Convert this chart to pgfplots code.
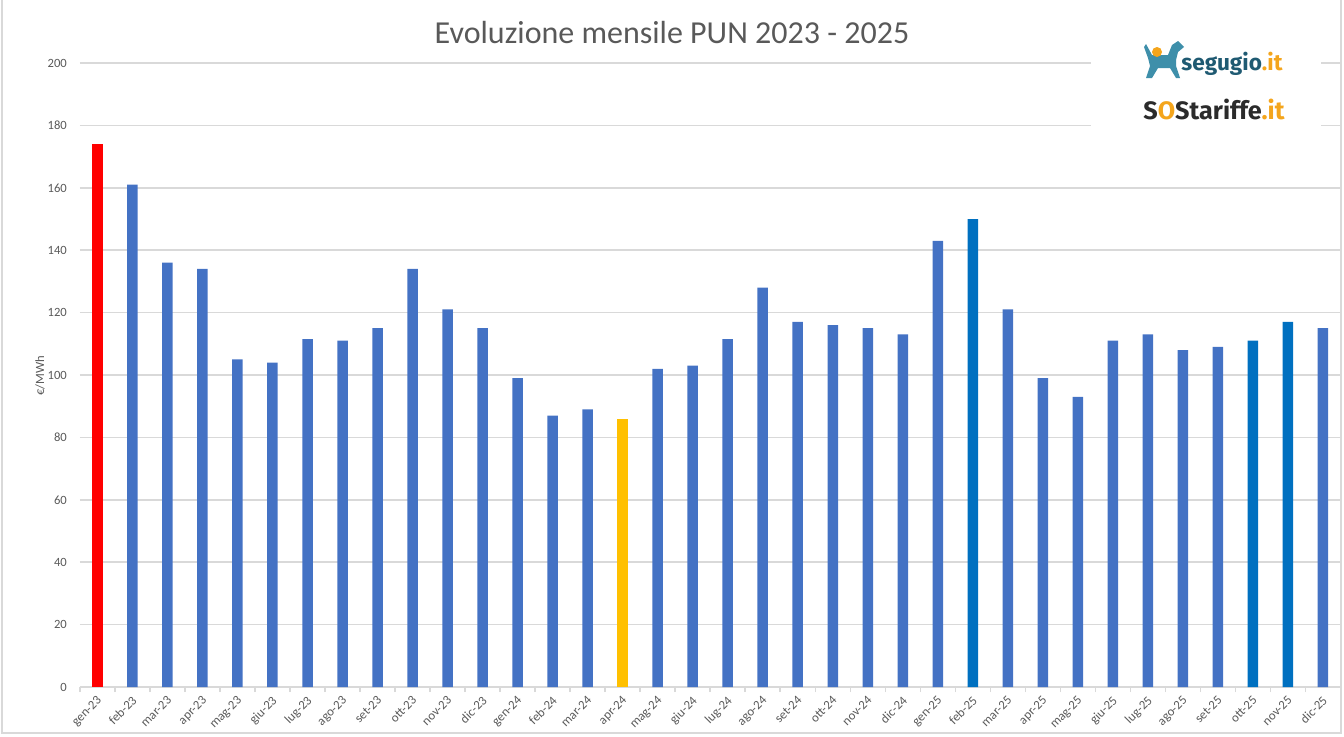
\documentclass[border=0pt]{standalone}
\usepackage{pgfplots}
\pgfplotsset{compat=1.18}
\usepackage{fontspec}
\setmainfont{Carlito}
\newfontfamily\logofont{Fira Sans}
\definecolor{barblue}{HTML}{4472C4}
\definecolor{darkblue}{HTML}{0070C0}
\definecolor{barred}{HTML}{FF0000}
\definecolor{baryellow}{HTML}{FFC000}
\definecolor{txtgray}{HTML}{595959}
\definecolor{gridgray}{HTML}{D9D9D9}
\definecolor{segteal}{HTML}{1F5A72}
\definecolor{segdog}{HTML}{3E8FAA}
\definecolor{segorange}{HTML}{F4A51C}
\definecolor{sosdark}{HTML}{2B2B2B}
\begin{document}
\begin{tikzpicture}[x=0.5pt,y=0.5pt]
\useasboundingbox (0,0) rectangle (1344,736);
\draw[gridgray,line width=0.75pt] (2,736) -- (2,3) -- (1341,3) -- (1341,736);
\begin{axis}[
  at={(39.95pt,24.5pt)}, anchor=south west,
  scale only axis, width=630.3pt, height=312pt,
  xmin=-0.5, xmax=35.5, ymin=0, ymax=200,
  axis y line*=left, axis x line*=bottom,
  y axis line style={draw=none},
  x axis line style={draw=gridgray, line width=0.75pt},
  ytick={0,20,...,200},
  ymajorgrids, grid style={gridgray, line width=0.75pt},
  major tick length=0pt,
  xtick={0,...,35},
  minor xtick={-0.5,0.5,...,35.5},
  minor tick length=2.5pt,
  minor tick style={gridgray, line width=0.75pt},
  tick align=outside,
  xticklabels={gen-23,feb-23,mar-23,apr-23,mag-23,giu-23,lug-23,ago-23,set-23,ott-23,nov-23,dic-23,
    gen-24,feb-24,mar-24,apr-24,mag-24,giu-24,lug-24,ago-24,set-24,ott-24,nov-24,dic-24,
    gen-25,feb-25,mar-25,apr-25,mag-25,giu-25,lug-25,ago-25,set-25,ott-25,nov-25,dic-25},
  xticklabel style={xshift=-0.6pt, yshift=-2.4pt, rotate=45, anchor=north east, font=\fontsize{6.4}{7}\selectfont, text=txtgray, inner sep=1pt},
  yticklabel style={font=\fontsize{6.3}{7}\selectfont, text=txtgray, xshift=-3pt},
  /pgf/number format/assume math mode=true,
  ybar, bar width=5.25pt, bar shift=0pt,
  clip=false,
]
\addplot[fill=barred, draw=none] coordinates {(0,174)};
\addplot[fill=barblue, draw=none] coordinates {
(1,161)(2,136)(3,134)(4,105)(5,104)(6,111.5)(7,111)(8,115)(9,134)(10,121)(11,115)
(12,99)(13,87)(14,89)(16,102)(17,103)(18,111.5)(19,128)(20,117)(21,116)(22,115)(23,113)
(24,143)(26,121)(27,99)(28,93)(29,111)(30,113)(31,108)(32,109)(35,115)};
\addplot[fill=baryellow, draw=none] coordinates {(15,86)};
\addplot[fill=darkblue, draw=none] coordinates {(25,150)(33,111)(34,117)};
\end{axis}
\node[text=txtgray, font=\fontsize{6.3}{7}\selectfont, rotate=90] at (40,360) {€/MWh};
\node[text=txtgray, font=\fontsize{16}{18}\selectfont] at (672,703) {Evoluzione mensile PUN 2023 - 2025};
% logo area
\fill[white] (1091,604) rectangle (1321,708);
\fill[segdog] (1146,692) -- (1152,681) -- (1168,681) -- (1172,691) -- (1178,695) -- (1184,689) -- (1178,684) -- (1176,676) -- (1176,670) -- (1180,658) -- (1176,658) -- (1170,668) -- (1158,668) -- (1152,658) -- (1146,658) -- (1150,670) -- (1148,678) -- (1144,689) -- cycle;
\fill[segorange] (1157,684) circle (5);
\node[anchor=base west, inner sep=0pt, font=\logofont\bfseries\fontsize{11.3}{13}\selectfont] at (1181,666) {\textcolor{segteal}{segugio}\textcolor{segorange}{.it}};
\node[anchor=base west, inner sep=0pt, font=\logofont\bfseries\fontsize{12.6}{15}\selectfont] at (1143,617) {\textcolor{sosdark}{S}\textcolor{segorange}{O}\textcolor{sosdark}{Stariffe}\textcolor{segorange}{.it}};
\end{tikzpicture}
\end{document}
